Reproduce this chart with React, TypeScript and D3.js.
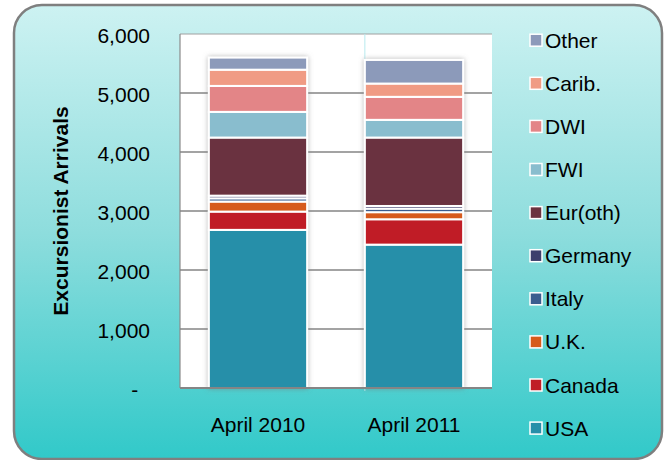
import React from "react";
import * as d3 from "d3";

const categories = ["April 2010", "April 2011"];
const seriesNames = ["USA", "Canada", "U.K.", "Italy", "Germany", "Eur(oth)", "FWI", "DWI", "Carib.", "Other"];
const seriesColors = ["#278fa9", "#c01d27", "#d65a1a", "#3a5d8f", "#3d3f6c", "#6b3340", "#89bdce", "#e38587", "#f09b84", "#8c9aba"];
const usa = [2680, 2430];
const canada = [310, 430];
const uk = [170, 120];
const italy = [55, 60];
const germany = [45, 45];
const eurOth = [985, 1160];
const fwi = [435, 300];
const dwi = [440, 390];
const carib = [275, 225];
const other = [205, 400];
const yTicks = [0, 1000, 2000, 3000, 4000, 5000, 6000];

const seriesValues = [usa, canada, uk, italy, germany, eurOth, fwi, dwi, carib, other];

const W = 667;
const H = 460;
const plot = { left: 180, right: 492, top: 34, bottom: 388 };
const FONT = "'Liberation Sans', Arial, sans-serif";
const FS = 21;

export default function App() {
  const rows = categories.map((c, i) => {
    const r: any = { category: c };
    seriesNames.forEach((s, j) => (r[s] = seriesValues[j][i]));
    return r;
  });
  const stacked = d3.stack<any>().keys(seriesNames)(rows);

  const x = d3.scaleBand<string>().domain(categories).range([plot.left, plot.right]).paddingInner(0).paddingOuter(0);
  const y = d3.scaleLinear().domain([0, 6000]).range([plot.bottom, plot.top]);
  const barW = x.bandwidth() * 0.63;
  const barX = (c: string) => (x(c) as number) + (x.bandwidth() - barW) / 2;
  const fmt = (v: number) => (v === 0 ? "-\u2007" : d3.format(",")(v));

  const legendTop = 40.2;
  const legendStep = 43.1;
  const legendItems = seriesNames.map((s, i) => ({ name: s, color: seriesColors[i] })).reverse();
  const lastCat = categories[categories.length - 1];

  return (
    <svg width={W} height={H} style={{ position: "absolute", left: 0, top: 0, display: "block" }}>
      <defs>
        <linearGradient id="bg" x1="0" y1="0" x2="0" y2="1">
          <stop offset="0" stopColor="#cdf2f2" />
          <stop offset="0.5" stopColor="#8edddd" />
          <stop offset="1" stopColor="#31c9c9" />
        </linearGradient>
        <filter id="shadow" x="-20%" y="-10%" width="140%" height="120%">
          <feDropShadow dx="0" dy="0" stdDeviation="2.5" floodColor="#777" floodOpacity="0.55" />
        </filter>
      </defs>
      <rect x={14} y={5} width={648} height={454} rx={28} ry={28} fill="url(#bg)" stroke="#7f7f7f" strokeWidth={2.5} />

      {/* plot area */}
      <rect x={plot.left} y={plot.top} width={plot.right - plot.left} height={plot.bottom - plot.top} fill="#ffffff" />
      <line x1={plot.left} x2={plot.right} y1={plot.top} y2={plot.top} stroke="#a0a0a0" strokeWidth={1} />
      <line x1={plot.left} x2={plot.left} y1={plot.top} y2={plot.bottom} stroke="#8a8a8a" strokeWidth={1.2} />
      {yTicks.filter((t) => t > 0 && t < 6000).map((t) => (
        <line key={t} x1={plot.left} x2={plot.right} y1={y(t)} y2={y(t)} stroke="#858585" strokeWidth={1.5} />
      ))}
      <line x1={barX(lastCat)} x2={barX(lastCat)} y1={plot.top} y2={plot.bottom + 3} stroke="#b7eaee" strokeWidth={1} />

      {/* bars */}
      {categories.map((c, i) => (
        <g key={c} filter="url(#shadow)">
          {stacked.map((layer, j) => (
            <rect
              key={layer.key}
              x={barX(c)}
              y={y(layer[i][1])}
              width={barW}
              height={Math.max(0, y(layer[i][0]) - y(layer[i][1]))}
              fill={seriesColors[j]}
              stroke="#ffffff"
              strokeWidth={2}
            />
          ))}
        </g>
      ))}
      <line x1={plot.left} x2={plot.right} y1={plot.bottom} y2={plot.bottom} stroke="#858585" strokeWidth={2} />

      {/* y tick labels */}
      {yTicks.map((t) => (
        <text key={t} x={150} y={y(t) + 1.5} dy="0.36em" textAnchor="end" fontFamily={FONT} fontSize={FS} fill="#000" style={{ whiteSpace: "pre" }}>
          {fmt(t)}
        </text>
      ))}

      {/* x labels */}
      {categories.map((c) => (
        <text key={c} x={(x(c) as number) + x.bandwidth() / 2} y={424} dy="0.36em" textAnchor="middle" fontFamily={FONT} fontSize={FS} fill="#000">
          {c}
        </text>
      ))}

      {/* y axis title */}
      <text transform={`translate(67.5, ${(plot.top + plot.bottom) / 2}) rotate(-90)`} textAnchor="middle" fontFamily={FONT} fontSize={FS} fontWeight="bold" fill="#000">
        Excursionist Arrivals
      </text>

      {/* legend */}
      {legendItems.map((d, i) => {
        const cy = legendTop + i * legendStep;
        return (
          <g key={d.name}>
            <rect x={530} y={cy - 6} width={12} height={12} fill={d.color} stroke="#ffffff" strokeWidth={1.5} />
            <text x={545} y={cy} dy="0.36em" fontFamily={FONT} fontSize={FS} fill="#000">
              {d.name}
            </text>
          </g>
        );
      })}
    </svg>
  );
}
